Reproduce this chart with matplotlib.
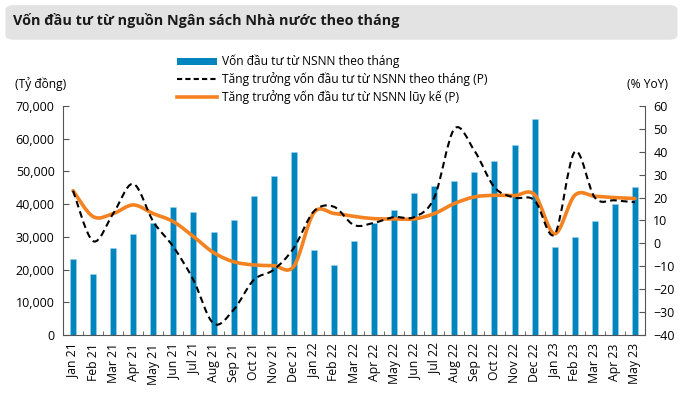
import numpy as np
import matplotlib.pyplot as plt
from matplotlib.path import Path
from matplotlib.patches import PathPatch, FancyBboxPatch, Patch
from matplotlib.lines import Line2D

plt.rcParams['font.family'] = ['Open Sans', 'DejaVu Sans']

# Data
months = ['Jan 21', 'Feb 21', 'Mar 21', 'Apr 21', 'May 21', 'Jun 21', 'Jul 21', 'Aug 21',
          'Sep 21', 'Oct 21', 'Nov 21', 'Dec 21', 'Jan 22', 'Feb 22', 'Mar 22', 'Apr 22',
          'May 22', 'Jun 22', 'Jul 22', 'Aug 22', 'Sep 22', 'Oct 22', 'Nov 22', 'Dec 22',
          'Jan 23', 'Feb 23', 'Mar 23', 'Apr 23', 'May 23']
capital = [23100, 18500, 26600, 31000, 34300, 39000, 37500, 31600,
           35200, 42400, 48500, 56000, 25900, 21500, 28700, 34200,
           38100, 43400, 45600, 47100, 49800, 53200, 58000, 65900,
           26900, 29900, 34700, 40000, 45100]
growth_monthly = [23, 1, 13, 26, 9.5, -1.5, -16, -35,
                  -29, -16, -11.5, -2, 14, 16, 8, 9,
                  11.5, 11.5, 20, 50, 40.5, 24.5, 20, 18.8,
                  4, 40, 20, 18.8, 18]
growth_ytd = [23, 11.7, 13, 16.8, 13, 9.5, 3, -4,
              -8, -9.4, -9.7, -10.0, 13.4, 13.1, 11.8, 10.8,
              10.7, 10.7, 13, 17.4, 20.3, 21, 20.9, 21.3,
              4.2, 21, 20.6, 20, 19.6]
legend_labels = ['Vốn đầu tư từ NSNN theo tháng',
                 'Tăng trưởng vốn đầu tư từ NSNN theo tháng (P)',
                 'Tăng trưởng vốn đầu tư từ NSNN lũy kế (P)']
title = 'Vốn đầu tư từ nguồn Ngân sách Nhà nước theo tháng'

BLUE = '#0085be'
ORANGE = '#f58220'
W, H = 683, 397


def smooth_path(xs, ys, tension=1 / 6):
    # Catmull-Rom style smoothing as cubic bezier segments
    pts = np.column_stack([np.asarray(xs, float), np.asarray(ys, float)])
    verts = [pts[0]]
    codes = [Path.MOVETO]
    n = len(pts)
    for i in range(n - 1):
        p0 = pts[i - 1] if i > 0 else pts[i]
        p1, p2 = pts[i], pts[i + 1]
        p3 = pts[i + 2] if i + 2 < n else pts[i + 1]
        verts += [p1 + (p2 - p0) * tension, p2 - (p3 - p1) * tension, p2]
        codes += [Path.CURVE4] * 3
    return Path(verts, codes)


def fit_size(text, size, width_px, weight='normal'):
    # scale a font size so the text spans the measured width
    t = fig.text(0, 0, text, fontsize=size, fontweight=weight)
    w = t.get_window_extent(fig.canvas.get_renderer()).width
    t.remove()
    return size * width_px / w


fig = plt.figure(figsize=(W / 100, H / 100), dpi=100)

# title band
band = FancyBboxPatch((0.008, 0.9), 0.984, 0.087, boxstyle='round,pad=0,rounding_size=0.012',
                      transform=fig.transFigure, facecolor='#e3e3e3', edgecolor='none')
fig.patches.append(band)
title_fs = fit_size(title, 10, 384, 'bold')
fig.text(13 / W, 1 - 21 / H, title, fontsize=title_fs, fontweight='bold',
         va='center', ha='left', color='#1a1a1a')

ax = fig.add_axes([63 / W, 1 - 335 / H, (645 - 63) / W, (335 - 106) / H])
x = np.arange(len(months))
ax.bar(x, capital, width=0.3, color=BLUE, edgecolor='#9fd3ec', linewidth=0.4, zorder=1)
ax.set_xlim(-0.5, len(months) - 0.5)
ax.set_ylim(0, 70000)
ax.set_yticks(np.arange(0, 70001, 10000))
ax.set_yticklabels([f'{v:,}' for v in range(0, 70001, 10000)])
ax.set_xticks(x)
ax.set_xticklabels(months, rotation=90)
ax.set_xticks(np.arange(-0.5, len(months), 1), minor=True)
ax.tick_params(axis='x', which='major', length=0, labelsize=8.8, pad=6)
ax.tick_params(axis='x', which='minor', direction='in', length=3, color='#555555')
ax.tick_params(axis='y', direction='in', length=4, labelsize=9, color='#555555', pad=6)
ax.spines['top'].set_visible(False)
ax.spines['right'].set_visible(False)
for s in ['left', 'bottom']:
    ax.spines[s].set_color('#555555')

ax2 = ax.twinx()
ax2.set_ylim(-40, 60)
ax2.set_yticks(np.arange(-40, 61, 10))
ax2.tick_params(axis='y', direction='in', length=4, labelsize=9, color='#555555', pad=6)
for s in ['top', 'left', 'bottom']:
    ax2.spines[s].set_visible(False)
ax2.spines['right'].set_color('#555555')

ax2.add_patch(PathPatch(smooth_path(x, growth_ytd), facecolor='none', edgecolor=ORANGE,
                        linewidth=2.6, capstyle='round', zorder=3))
ax2.add_patch(PathPatch(smooth_path(x, growth_monthly), facecolor='none', edgecolor='black',
                        linewidth=1.5, linestyle=(0, (3.2, 2)), zorder=4))

leg_fs = fit_size(legend_labels[1], 9, 489 - 222)
em = leg_fs * 100 / 72
fig.text(15 / W, 1 - 84 / H, '(Tỷ đồng)', fontsize=leg_fs, va='center')
fig.text(668 / W, 1 - 85 / H, '(% YoY)', fontsize=leg_fs, va='center', ha='right')

handles = [Patch(facecolor=BLUE, edgecolor='none'),
           Line2D([], [], color='black', linestyle=(0, (2.5, 1.5)), linewidth=1.5),
           Line2D([], [], color=ORANGE, linewidth=2.6)]
fig.legend(handles, legend_labels, loc='upper left', bbox_to_anchor=(177 / W, 1 - 55 / H),
           frameon=False, fontsize=leg_fs, handlelength=40 / em, handleheight=0.5,
           labelspacing=0.3, borderaxespad=0, borderpad=0, handletextpad=5 / em)

fig.savefig('out.png', dpi=100)
